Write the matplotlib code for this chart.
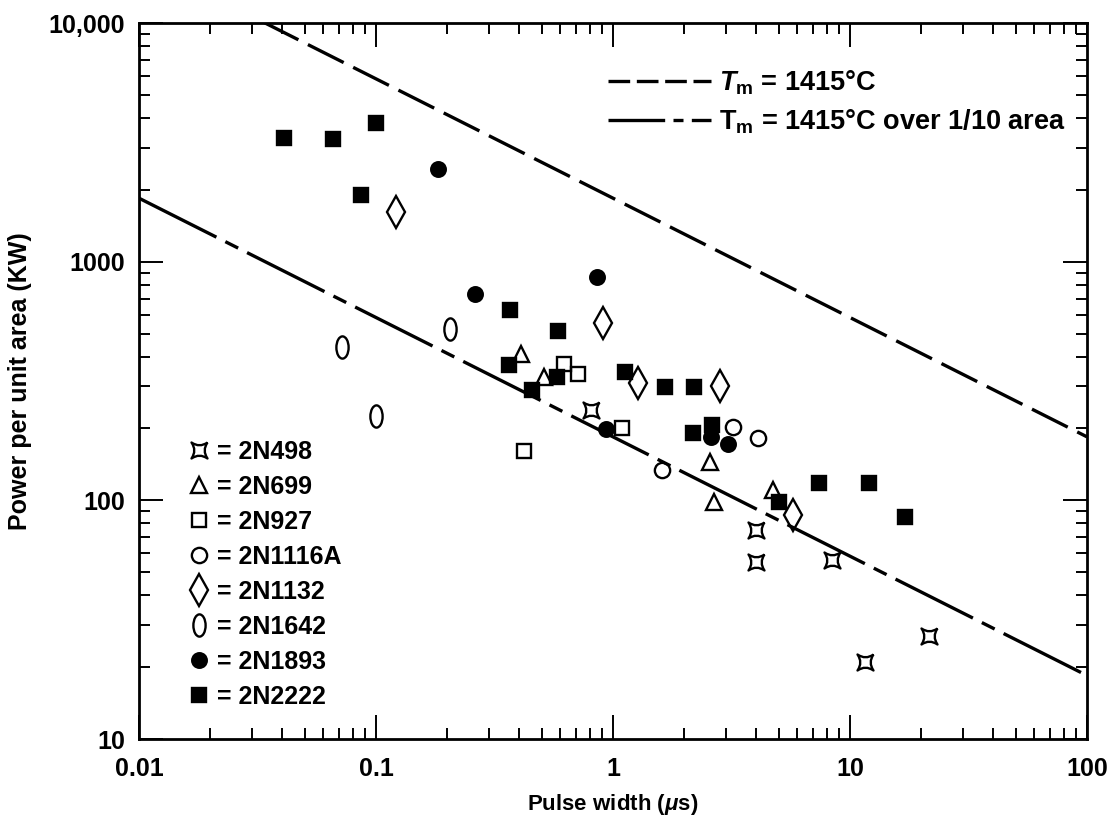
import numpy as np
import matplotlib
matplotlib.use("Agg")
import matplotlib.pyplot as plt
from matplotlib.path import Path
from matplotlib.transforms import Affine2D
from matplotlib.lines import Line2D
from matplotlib.ticker import FixedLocator, FixedFormatter, LogLocator, NullFormatter

# ---------------- data ----------------
x_2N498 = [0.81, 4.0, 4.0, 8.4, 21.5, 11.6]
y_2N498 = [240, 75, 55, 56, 27, 21]
x_2N699 = [0.41, 0.51, 2.57, 2.67, 4.75]
y_2N699 = [410, 330, 145, 98, 110]
x_2N927 = [0.42, 0.62, 0.71, 1.09]
y_2N927 = [161, 372, 338, 200]
x_2N1116A = [1.61, 3.2, 4.1]
y_2N1116A = [134, 203, 182]
x_2N1132 = [0.121, 0.91, 1.28, 2.83, 5.77]
y_2N1132 = [1620, 555, 311, 301, 87]
x_2N1642 = [0.072, 0.1, 0.206]
y_2N1642 = [440, 225, 520]
x_2N1893 = [0.182, 0.262, 0.859, 0.932, 2.58, 3.07]
y_2N1893 = [2440, 735, 865, 199, 185, 173]
x_2N2222 = [0.041, 0.066, 0.0997, 0.0867, 0.368, 0.586, 0.364, 0.579, 0.457,
            1.12, 1.66, 2.2, 2.17, 2.61, 5.03, 7.42, 12.0, 17.1]
y_2N2222 = [3300, 3250, 3800, 1900, 627, 512, 369, 329, 290,
            344, 299, 299, 191, 207, 98, 118, 118, 85]

# melting-limit lines (end points)
tm_x = [0.01, 100]
tm_y = [18450, 184.5]
tm10_x = [0.01, 100]
tm10_y = [1845, 18.45]

x_ticks = [0.01, 0.1, 1, 10, 100]
x_tick_labels = ["0.01", "0.1", "1", "10", "100"]
y_ticks = [10, 100, 1000, 10000]
y_tick_labels = ["10", "100", "1000", "10,000"]

# ---------------- style ----------------
plt.rcParams["font.family"] = ["Liberation Sans", "DejaVu Sans"]
plt.rcParams["mathtext.fontset"] = "custom"
plt.rcParams["mathtext.it"] = "Liberation Sans:italic:bold"
plt.rcParams["mathtext.rm"] = "Liberation Sans:bold"
plt.rcParams["mathtext.bf"] = "Liberation Sans:bold"

fig = plt.figure(figsize=(11.12, 8.30), dpi=100)
ax = fig.add_axes([139/1112, 91/830, 948/1112, 716/830])
ax.set_xscale("log")
ax.set_yscale("log")
ax.set_xlim(0.01, 100)
ax.set_ylim(10, 10000)

# custom markers
ellipse = Path.unit_circle().transformed(Affine2D().scale(0.55, 1.0))
c = 0.3
cross_verts = [(1, 1), (c, 0), (1, -1), (0, -c), (-1, -1), (-c, 0), (-1, 1), (0, c), (1, 1)]
cross_codes = [Path.MOVETO, Path.CURVE3, Path.CURVE3, Path.CURVE3, Path.CURVE3,
               Path.CURVE3, Path.CURVE3, Path.CURVE3, Path.CURVE3]
cross = Path(cross_verts, cross_codes)

lw_line = 2.4
ln1, = ax.plot(tm_x, tm_y, color="black", lw=lw_line, dashes=(12, 3.2), solid_capstyle="butt")
ln2, = ax.plot(tm10_x, tm10_y, color="black", lw=lw_line, dashes=(26, 3.0, 4.3, 3.0))

mew = 1.7
series = [
    (x_2N498, y_2N498, cross, 11.5, "none", "= 2N498"),
    (x_2N699, y_2N699, "^", 11, "none", "= 2N699"),
    (x_2N927, y_2N927, "s", 10, "none", "= 2N927"),
    (x_2N1116A, y_2N1116A, "o", 11, "none", "= 2N1116A"),
    (x_2N1132, y_2N1132, "d", 16, "none", "= 2N1132"),
    (x_2N1642, y_2N1642, ellipse, 16, "none", "= 2N1642"),
    (x_2N1893, y_2N1893, "o", 10.5, "black", "= 2N1893"),
    (x_2N2222, y_2N2222, "s", 9.5, "black", "= 2N2222"),
]
handles = []
for xs, ys, mk, ms, fc, lab in series:
    ax.plot(xs, ys, ls="none", marker=mk, ms=ms, mfc=fc, mec="black", mew=mew)
    handles.append(Line2D([], [], ls="none", marker=mk, ms=ms, mfc=fc, mec="black", mew=mew))
labels = [s[5] for s in series]

# axes formatting
for s in ax.spines.values():
    s.set_linewidth(2.0)
ax.xaxis.set_major_locator(FixedLocator(x_ticks))
ax.xaxis.set_major_formatter(FixedFormatter(x_tick_labels))
ax.yaxis.set_major_locator(FixedLocator(y_ticks))
ax.yaxis.set_major_formatter(FixedFormatter(y_tick_labels))
ax.xaxis.set_minor_locator(LogLocator(base=10, subs=np.arange(2, 10)))
ax.yaxis.set_minor_locator(LogLocator(base=10, subs=np.arange(2, 10)))
ax.xaxis.set_minor_formatter(NullFormatter())
ax.yaxis.set_minor_formatter(NullFormatter())
ax.tick_params(which="both", direction="in", top=True, right=True, width=1.4)
ax.tick_params(which="major", length=17)
ax.tick_params(which="minor", length=8)
ax.tick_params(axis="x", which="major", pad=13)
ax.tick_params(axis="y", which="major", pad=10)
for t in ax.get_xticklabels() + ax.get_yticklabels():
    t.set_fontsize(18)
    t.set_fontweight("bold")

ax.set_xlabel(r"Pulse width ($\mu$s)", fontsize=16, labelpad=8, fontweight="bold")
ax.set_ylabel("Power per unit area (KW)", fontsize=18, labelpad=12, fontweight="bold")

# line legend (upper right)
h1 = Line2D([], [], color="black", lw=lw_line, dashes=(6.5, 2.0))
h2 = Line2D([], [], color="black", lw=lw_line, dashes=(17, 2.5, 3, 2.5))
leg1 = ax.legend([h1, h2], [r"$T_{\mathrm{m}}$ = 1415°C", r"$\mathrm{T}_{\mathrm{m}}$ = 1415°C over 1/10 area"],
                 loc="upper left", bbox_to_anchor=((608-139)/948, (739-68)/716),
                 frameon=False, borderpad=0, borderaxespad=0, handlelength=3.8,
                 handletextpad=0.3, labelspacing=0.42,
                 prop={"size": 19.5, "weight": "bold"})
ax.add_artist(leg1)

# marker legend (lower left)
ax.legend(handles, labels, loc="upper left",
          bbox_to_anchor=((188-139)/948, (739-440)/716),
          frameon=False, borderpad=0, borderaxespad=0, handlelength=0.9,
          handletextpad=0.25, labelspacing=0.44,
          prop={"size": 18, "weight": "bold"})

fig.savefig("out.png", dpi=100)
